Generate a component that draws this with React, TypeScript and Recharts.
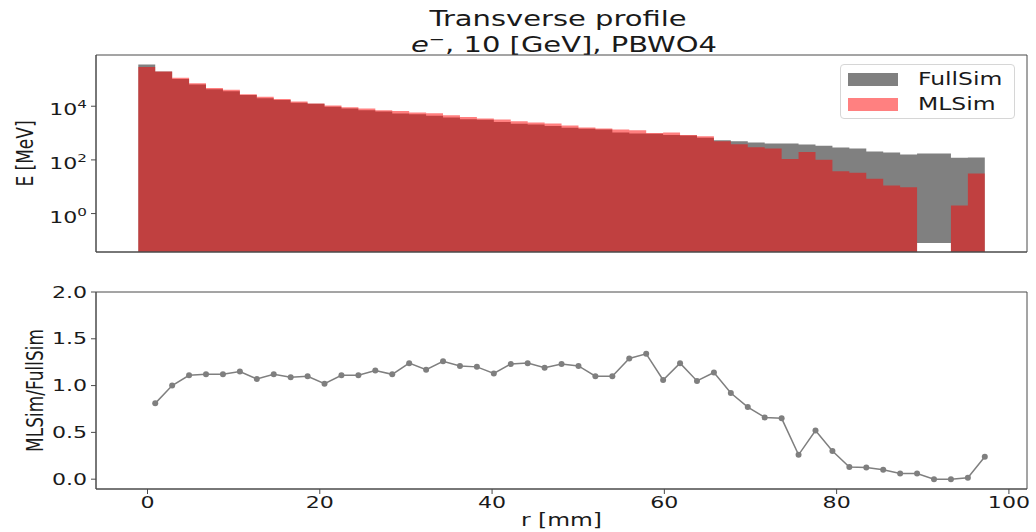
import React from 'react'
import {
  ComposedChart, Area, LineChart, Line, XAxis, YAxis, Legend, Label, ReferenceArea,
} from 'recharts'

// bins: 50 equal bins in r [mm]
const R_MIN = -1.07
const R_MAX = 97.2
const N_BINS = 50

const fullSim = [
  360000, 195000, 104000, 64000, 43000, 36000, 26000, 20000, 17000, 13600,
  12400, 9500, 8300, 7100, 6300, 5400, 5000, 4400, 3800, 3300,
  3100, 2600, 2200, 2100, 1840, 1570, 1450, 1350, 1050, 955,
  950, 845, 810, 665, 540, 500, 447, 410, 410, 375,
  338, 290, 266, 205, 189, 160, 174, 174, 119, 123,
]

const mlSim = [
  290000, 195000, 115000, 72000, 48000, 41000, 28000, 22600, 18600, 15000,
  12600, 10600, 9200, 8200, 7100, 6700, 5800, 5500, 4600, 4000,
  3500, 3200, 2760, 2500, 2260, 1900, 1600, 1480, 1350, 1280,
  1000, 1050, 850, 760, 500, 385, 295, 265, 107, 195,
  101, 38, 33, 20, 11, 9.6, 0, 0, 2, 31,
]

const ratio = [
  0.81, 1.0, 1.11, 1.12, 1.12, 1.15, 1.07, 1.12, 1.09, 1.1,
  1.02, 1.11, 1.11, 1.16, 1.12, 1.24, 1.17, 1.26, 1.21, 1.2,
  1.13, 1.23, 1.24, 1.19, 1.23, 1.21, 1.1, 1.1, 1.29, 1.34,
  1.06, 1.24, 1.05, 1.14, 0.92, 0.77, 0.66, 0.65, 0.26, 0.52,
  0.3, 0.13, 0.125, 0.1, 0.06, 0.06, 0.0, 0.0, 0.015, 0.24,
]

const xTicks = [0, 20, 40, 60, 80, 100]
const logTicks = [1, 100, 10000]
const ratioTicks = [0, 0.5, 1, 1.5, 2]

const X_DOMAIN = [-5.98, 102.1]
const Y_LOG_MIN = 0.037
const Y_LOG_MAX = 810000
const GAP_BASE = 0.08 // log-clip leaves a white gap under empty MLSim bins
const RATIO_DOMAIN = [-0.105, 2]

const FONT = '"DejaVu Sans", sans-serif'
const INK = '#1a1a1a'
const SPINE = '#4a4a4a'
const SX = 1.38 // the source image is stretched horizontally

const binWidth = (R_MAX - R_MIN) / N_BINS
const edges = Array.from({ length: N_BINS + 1 }, (_, i) => R_MIN + i * binWidth)

// step histogram rows (value held from left edge), last row closes the final bin
const histRows = edges.map((r, i) => {
  const k = Math.min(i, N_BINS - 1)
  const empty = mlSim[k] <= 0
  return {
    r,
    full: [empty ? GAP_BASE : Y_LOG_MIN, fullSim[k]],
    ml: empty ? Y_LOG_MIN : mlSim[k],
  }
})

// ratio points sit on the right edge of each bin
const ratioRows = ratio.map((v, i) => ({ r: edges[i + 1], ratio: v }))

const XTick = (props: any) => {
  const { x, y, payload } = props
  return (
    <g transform={`translate(${x},${y})`}>
      <text transform={`scale(${SX},1)`} y={12} textAnchor="middle" fontSize={16} fill={INK} fontFamily={FONT}>
        {payload.value}
      </text>
    </g>
  )
}

const RatioTick = (props: any) => {
  const { x, y, payload } = props
  return (
    <g transform={`translate(${x},${y})`}>
      <text transform={`scale(${SX},1)`} y={5.5} textAnchor="end" fontSize={16} fill={INK} fontFamily={FONT}>
        {Number(payload.value).toFixed(1)}
      </text>
    </g>
  )
}

const LogTick = (props: any) => {
  const { x, y, payload } = props
  const exp = Math.round(Math.log10(payload.value))
  return (
    <g transform={`translate(${x},${y})`}>
      <text transform={`scale(${SX},1)`} y={9} textAnchor="end" fontSize={16} fill={INK} fontFamily={FONT}>
        <tspan>10</tspan>
        <tspan dy={-7} fontSize={11}>{exp}</tspan>
      </text>
    </g>
  )
}

const YTitle = ({ viewBox, value, cx }: any) => {
  const cy = viewBox.y + viewBox.height / 2
  return (
    <text
      transform={`translate(${cx},${cy}) scale(${SX},1) rotate(-90)`}
      textAnchor="middle" dy="0.35em" fontSize={17} fill={INK} fontFamily={FONT}
    >
      {value}
    </text>
  )
}

const XTitle = ({ viewBox, value }: any) => {
  const cx = viewBox.x + viewBox.width / 2
  return (
    <text
      transform={`translate(${cx},${viewBox.y + 37}) scale(${SX},1)`}
      textAnchor="middle" fontSize={17} fill={INK} fontFamily={FONT}
    >
      {value}
    </text>
  )
}

const legendColors: Record<string, string> = { FullSim: '#808080', MLSim: '#ff8080' }

const HistLegend = (props: any) => {
  const items = (props.payload || []).map((p: any) => p.value)
  return (
    <div style={{
      boxSizing: 'border-box', width: 175, height: 55, paddingTop: 2,
      border: '1px solid #d6d6d6', borderRadius: 4, background: 'rgba(255,255,255,0.8)',
    }}>
      {items.map((name: string) => (
        <div key={name} style={{ display: 'flex', alignItems: 'center', height: 25 }}>
          <div style={{ marginLeft: 7, width: 50, height: 12.5, background: legendColors[name] }} />
          <div style={{
            marginLeft: 20, fontSize: 17, lineHeight: 1, color: INK, fontFamily: FONT,
            transform: `scaleX(${SX})`, transformOrigin: 'left center', whiteSpace: 'nowrap',
          }}>
            {name}
          </div>
        </div>
      ))}
    </div>
  )
}

const App = () => {
  return (
    <div style={{ position: 'absolute', left: 0, top: 0, width: 1036, height: 532, background: '#fff', fontFamily: FONT }}>
      <svg width={1036} height={62} style={{ position: 'absolute', left: 0, top: 0 }}>
        <text transform={`translate(558,26) scale(${SX},1)`} textAnchor="middle" fontSize={21} fill={INK} fontFamily={FONT}>
          Transverse profile
        </text>
        <text transform={`translate(564,52) scale(${SX},1)`} textAnchor="middle" fontSize={21} fill={INK} fontFamily={FONT}>
          <tspan fontStyle="italic">e</tspan>
          <tspan dy={-8} fontSize={14}>{'\u2212'}</tspan>
          <tspan dy={8}>, 10 [GeV], PBWO4</tspan>
        </text>
      </svg>

      <div style={{ position: 'absolute', left: 0, top: 0 }}>
        <ComposedChart width={1036} height={262} data={histRows} margin={{ top: 55, right: 9, left: 10, bottom: 0 }}>
          <XAxis
            dataKey="r" type="number" domain={X_DOMAIN} ticks={xTicks} allowDataOverflow
            height={10} tick={false} tickSize={5} stroke={SPINE}
          />
          <YAxis
            type="number" scale="log" domain={[Y_LOG_MIN, Y_LOG_MAX]} allowDataOverflow
            ticks={logTicks} width={86} tickSize={5} tickMargin={4} stroke={SPINE} tick={<LogTick />}
          >
            <Label content={(p: any) => <YTitle {...p} value="E [MeV]" cx={25} />} />
          </YAxis>
          <Area
            dataKey="full" name="FullSim" type="stepAfter"
            fill="#808080" fillOpacity={1} stroke="none" isAnimationActive={false}
          />
          <Area
            dataKey="ml" name="MLSim" type="stepAfter" baseValue={Y_LOG_MIN}
            fill="#ff0000" fillOpacity={0.5} stroke="none" isAnimationActive={false}
          />
          <ReferenceArea
            x1={X_DOMAIN[0]} x2={X_DOMAIN[1]} y1={Y_LOG_MIN} y2={Y_LOG_MAX}
            fill="none" stroke={SPINE} strokeWidth={1}
          />
          <Legend
            layout="vertical" align="center" verticalAlign="middle"
            wrapperStyle={{ top: 64, left: 840, width: 175, height: 55 }}
            content={<HistLegend />}
          />
        </ComposedChart>
      </div>

      <div style={{ position: 'absolute', left: 0, top: 262 }}>
        <LineChart width={1036} height={270} data={ratioRows} margin={{ top: 30, right: 9, left: 10, bottom: 0 }}>
          <XAxis
            dataKey="r" type="number" domain={X_DOMAIN} ticks={xTicks} allowDataOverflow
            height={43} tickSize={5} stroke={SPINE} tick={<XTick />}
          >
            <Label content={(p: any) => <XTitle {...p} value="r [mm]" />} />
          </XAxis>
          <YAxis
            type="number" domain={RATIO_DOMAIN} ticks={ratioTicks} allowDataOverflow
            width={86} tickSize={5} tickMargin={4} stroke={SPINE} tick={<RatioTick />}
          >
            <Label content={(p: any) => <YTitle {...p} value="MLSim/FullSim" cx={35} />} />
          </YAxis>
          <ReferenceArea
            x1={X_DOMAIN[0]} x2={X_DOMAIN[1]} y1={RATIO_DOMAIN[0]} y2={RATIO_DOMAIN[1]}
            fill="none" stroke={SPINE} strokeWidth={1}
          />
          <Line
            dataKey="ratio" type="linear" stroke="#7f7f7f" strokeWidth={1.5}
            dot={{ r: 3, fill: '#7f7f7f', stroke: '#7f7f7f', strokeWidth: 0 }}
            isAnimationActive={false}
          />
        </LineChart>
      </div>
    </div>
  )
}

export default App
